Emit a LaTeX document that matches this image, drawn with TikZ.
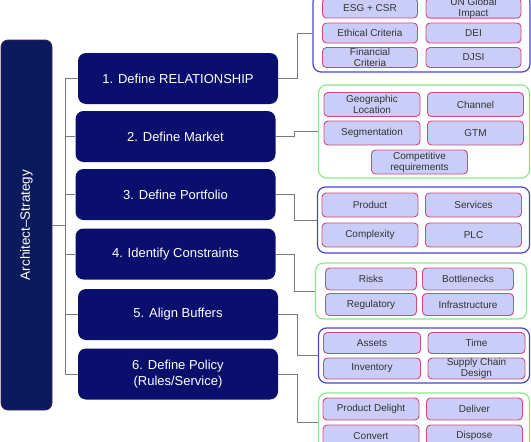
\documentclass[tikz,border=0pt]{standalone}
\usepackage{fontspec}
\setmainfont{Liberation Sans}
\definecolor{navy}{HTML}{0A0F6E}
\definecolor{archfill}{HTML}{0B1A5C}
\definecolor{archline}{HTML}{4A1F4F}
\definecolor{itemfill}{HTML}{C9CDF7}
\definecolor{itemline}{HTML}{D2487A}
\definecolor{grpblue}{HTML}{4646D2}
\definecolor{grpgreen}{HTML}{8CE88C}
\definecolor{linkgray}{HTML}{7A7A7A}
\tikzset{
  stepbox/.style={fill=navy, rounded corners=8pt, minimum width=200pt, minimum height=51pt,
    inner sep=0pt, text=white, align=center, font=\fontsize{13}{16.5}\selectfont},
  archbox/.style={fill=archfill, draw=archline, line width=0.8pt, rounded corners=7pt,
    minimum width=51pt, minimum height=370pt, inner sep=0pt, text=white,
    font=\fontsize{13.5}{16}\selectfont},
  grpbox/.style={fill=white, line width=1.2pt, rounded corners=8pt, inner sep=0pt},
  itembox/.style={fill=itemfill, draw=itemline, line width=0.9pt, rounded corners=4pt,
    inner sep=0pt, align=center, text=black!80, font=\fontsize{10}{11}\selectfont},
  link/.style={draw=linkgray, line width=0.9pt}
}
\begin{document}
\begin{tikzpicture}[x=1pt, y=-1pt]
    \useasboundingbox (0,0) rectangle (531,442);
    \clip (0,0) rectangle (531,442);

    % Architect box
    \node[archbox] (arch) at (26.5,225) {\rotatebox{90}{Architect–Strategy}};

    % Steps
    \foreach \i/\x/\y/\t in {1/178/78.5/{1. Define RELATIONSHIP}, 2/175.5/136.5/{2. Define Market},
        3/175.5/194.5/{3. Define Portfolio}, 4/175.5/254/{4. Identify Constraints},
        5/178/314.5/{5. Align Buffers}, 6/178/374/{6. Define Policy\\(Rules/Service)}}
    {\node[stepbox] (step\i) at (\x,\y) {\t};}

    % Groups
    \foreach \i/\x/\y/\w/\h/\c in {1/421.5/33/217/78/grpblue, 2/424/131.5/211/93/grpgreen,
        3/423.5/220/212/66/grpblue, 4/421/291/211/56/grpgreen,
        5/424/355.5/211/55/grpblue, 6/424/422/211/58/grpgreen}
    {\node[grpbox, draw=\c, minimum width=\w pt, minimum height=\h pt] (grp\i) at (\x,\y) {};}

    % Items 1
    \foreach \n/\x/\y/\t in {a/370/8/{ESG + CSR}, b/473.5/8/{UN Global\\Impact},
        c/370/33/{Ethical Criteria}, d/473.5/33/{DEI},
        e/370/57.5/{Financial\\Criteria}, f/473.5/57.5/{DJSI}}
    {\node[itembox, minimum width=95pt, minimum height=20pt] (g1\n) at (\x,\y) {\t};}

    % Items 2
    \foreach \n/\x/\y/\t in {a/372/104.5/{Geographic\\Location}, b/475.5/104.5/{Channel},
        c/372/133/{Segmentation}, d/475.5/133/{GTM}, e/419.5/162/{Competitive\\requirements}}
    {\node[itembox, minimum width=96pt, minimum height=24pt] (g2\n) at (\x,\y) {\t};}

    % Items 3
    \foreach \n/\x/\y/\t in {a/370/205/{Product}, b/473.5/205/{Services},
        c/370/235/{Complexity}, d/473.5/235/{PLC}}
    {\node[itembox, minimum width=96pt, minimum height=24pt] (g3\n) at (\x,\y) {\t};}

    % Items 4
    \foreach \n/\x/\y/\t in {a/371/279/{Risks}, b/468/279/{Bottlenecks},
        c/371/304.5/{Regulatory}, d/468/304.5/{Infrastructure}}
    {\node[itembox, minimum width=91pt, minimum height=22pt] (g4\n) at (\x,\y) {\t};}

    % Items 5
    \foreach \n/\x/\y/\t in {a/372/343/{Assets}, b/476.5/343/{Time},
        c/372/368.5/{Inventory}, d/476.5/368.5/{Supply Chain\\Design}}
    {\node[itembox, minimum width=97pt, minimum height=21pt] (g5\n) at (\x,\y) {\t};}

    % Items 6
    \foreach \n/\x/\y/\t in {a/371/409/{Product Delight}, b/474.5/409/{Deliver},
        c/371/436/{Convert}, d/474.5/436/{Dispose}}
    {\node[itembox, minimum width=96pt, minimum height=22pt] (g6\n) at (\x,\y) {\t};}

    % Connectors
    \coordinate (spine) at (65,0);
    \draw[link] (arch.east) -- (arch.east -| spine);
    \draw[link] (step1.west -| spine) -- (step6.west -| spine);
    \foreach \i in {1,...,6}
    {\draw[link] (step\i.west -| spine) -- (step\i.west);}
    \foreach \i in {1,...,6}
    {\draw[link] (step\i.east) -- ++(19,0) |- (grp\i.west);}
\end{tikzpicture}
\end{document}
